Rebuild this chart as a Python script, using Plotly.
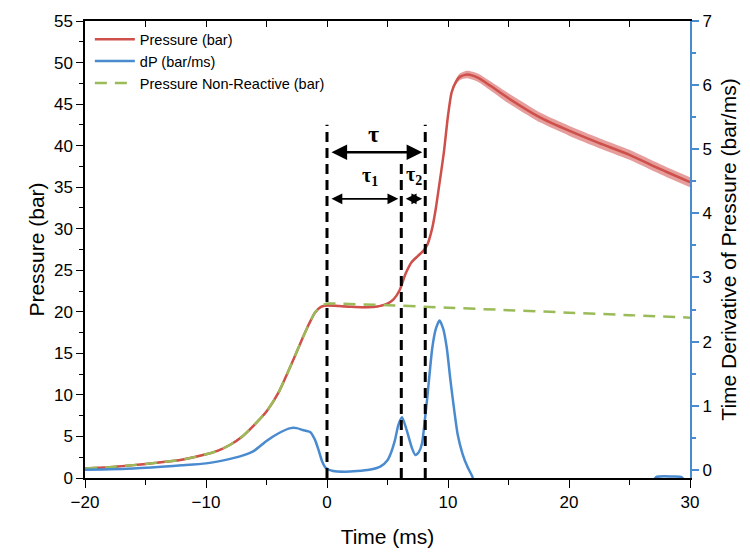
import plotly.graph_objects as go

# ---------------- data ----------------
t_pressure = [-20, -18, -16, -14, -12, -10, -9, -8, -7, -6, -5, -4, -3, -2.5, -2, -1.5, -1.0, -0.5,
              0, 1, 2, 3, 4, 4.5, 5, 5.5, 6, 6.5, 7, 7.5, 8, 8.3, 8.7, 9, 9.25, 9.65, 10, 10.3,
              10.7, 11.0, 11.6, 12.5, 13.5, 15, 17.6, 20, 22.5, 25, 27.5, 30]
pressure = [1.15, 1.3, 1.55, 1.85, 2.2, 2.85, 3.3, 4.0, 5.0, 6.4, 8.0, 10.3, 13.5, 15.2, 16.9, 18.5, 19.9, 20.6,
            20.75, 20.7, 20.6, 20.55, 20.6, 20.75, 21.0, 21.5, 22.6, 24.6, 26.0, 26.7, 27.4, 28.1, 30.1, 32.5, 35.0,
            39.1, 43.6, 46.4, 47.8, 48.3, 48.55, 48.15, 47.2, 45.7, 43.4, 41.8, 40.3, 38.9, 37.2, 35.6]
pressure_spread = [0.12, 0.12, 0.12, 0.12, 0.12, 0.12, 0.12, 0.12, 0.12, 0.12, 0.12, 0.12, 0.12, 0.12, 0.12, 0.12,
                   0.12, 0.12, 0.12, 0.12, 0.12, 0.12, 0.12, 0.12, 0.12, 0.12, 0.15, 0.15, 0.15, 0.15, 0.15, 0.15,
                   0.18, 0.2, 0.2, 0.2, 0.25, 0.3, 0.35, 0.4, 0.45, 0.5, 0.55, 0.6, 0.6, 0.6, 0.6, 0.6, 0.6, 0.6]

t_dp = [-20, -16, -12, -10, -8, -7, -6, -5, -4, -3, -2.5, -2, -1.4, -1.0, -0.7, -0.4, -0.1, 0.5, 1.5, 2.5,
        3.5, 4.4, 5.0, 5.3, 5.6, 5.9, 6.2, 6.6, 7.0, 7.3, 7.6, 7.85, 8.1, 8.3, 8.7, 9.0, 9.3, 9.6, 9.9,
        10.2, 10.5, 10.8, 11.2, 11.6, 12.0, 12.5, 26.5, 27.2, 28.5, 29.3, 30]
dp = [0.0, 0.02, 0.07, 0.1, 0.17, 0.22, 0.3, 0.45, 0.57, 0.65, 0.65, 0.62, 0.59, 0.47, 0.31, 0.13, 0.03, -0.02,
      -0.03, -0.02, 0.0, 0.05, 0.15, 0.27, 0.45, 0.7, 0.82, 0.61, 0.35, 0.23, 0.28, 0.41, 0.8, 1.15, 1.9, 2.2,
      2.33, 2.2, 1.9, 1.4, 0.95, 0.55, 0.25, 0.05, -0.1, -0.3, -0.3, -0.115, -0.105, -0.115, -0.3]

t_nonreactive = [-20, -18, -16, -14, -12, -10, -9, -8, -7, -6, -5, -4, -3, -2.5, -2, -1.5, -1.0, -0.5,
                 0, 0.5, 5, 10, 15, 20, 25, 30]
pressure_nonreactive = [1.15, 1.3, 1.55, 1.85, 2.2, 2.85, 3.3, 4.0, 5.0, 6.4, 8.0, 10.3, 13.5, 15.2, 16.9, 18.5,
                        19.9, 20.7, 21.0, 21.0, 20.8, 20.5, 20.2, 19.9, 19.6, 19.3]

# characteristic times (ms) and marker heights (bar)
event_times = [0, 6.14, 8.12]
event_tops = [42.5, 38.3, 42.5]
tau_level = 39.2
tau12_level = 33.6
tau_labels = ["τ", "τ<sub>1</sub>", "τ<sub>2</sub>"]
tau_label_pos = [(3.83, 41.4), (3.58, 36.3), (7.2, 36.4)]

x_ticks = [-20, -10, 0, 10, 20, 30]
left_ticks = list(range(0, 56, 5))
right_ticks = list(range(0, 8))

RED = "#cf4f4a"
BLUE = "#4a8bd0"
GREEN = "#9bbb59"
FONT = "Liberation Sans, Arial, sans-serif"
SERIF = "Liberation Serif, Times New Roman, serif"

upper = [p + s for p, s in zip(pressure, pressure_spread)]
lower = [p - s for p, s in zip(pressure, pressure_spread)]

fig = go.Figure()

# band around pressure
fig.add_trace(go.Scatter(x=t_pressure, y=upper, mode="lines", line=dict(width=0, shape="spline", smoothing=0.6),
                         showlegend=False, hoverinfo="skip"))
fig.add_trace(go.Scatter(x=t_pressure, y=lower, mode="lines", line=dict(width=0, shape="spline", smoothing=0.6),
                         fill="tonexty", fillcolor="rgba(207,79,74,0.55)", showlegend=False, hoverinfo="skip"))

fig.add_trace(go.Scatter(x=t_pressure, y=pressure, mode="lines", name="Pressure (bar)",
                         line=dict(color=RED, width=2.5, shape="spline", smoothing=0.6)))
fig.add_trace(go.Scatter(x=t_dp, y=dp, mode="lines", name="dP (bar/ms)", yaxis="y2",
                         line=dict(color=BLUE, width=2.5, shape="spline", smoothing=0.6)))
fig.add_trace(go.Scatter(x=t_nonreactive, y=pressure_nonreactive, mode="lines",
                         name="Pressure Non-Reactive (bar)",
                         line=dict(color=GREEN, width=2.5, dash="12px,8px", shape="spline", smoothing=0.5)))

# invisible trace to carry the top axis
fig.add_trace(go.Scatter(x=t_pressure[:1], y=pressure[:1], xaxis="x2", mode="markers",
                         marker=dict(opacity=0), showlegend=False, hoverinfo="skip"))

# vertical dashed event lines
for t_e, top in zip(event_times, event_tops):
    fig.add_shape(type="line", xref="x", yref="y", x0=t_e, x1=t_e, y0=0, y1=top,
                  line=dict(color="black", width=3, dash="10px,6px"))

# arrows
arrow_specs = [
    (event_times[0], event_times[2], tau_level, 2.5, 1.25),
    (event_times[0], event_times[1], tau12_level, 1.8, 1.2),
    (event_times[1], event_times[2], tau12_level, 1.8, 1.2),
]
for a, b, lvl, w, s in arrow_specs:
    fig.add_annotation(x=b, y=lvl, ax=a, ay=lvl, xref="x", yref="y", axref="x", ayref="y",
                       text="", showarrow=True, arrowhead=2, startarrowhead=2, arrowside="end+start",
                       arrowwidth=w, arrowsize=s, startarrowsize=s, arrowcolor="black",
                       standoff=3, startstandoff=3)

for (lx, ly), txt, sz in zip(tau_label_pos, tau_labels, [24, 20, 20]):
    fig.add_annotation(x=lx, y=ly, xref="x", yref="y", text="<b>" + txt + "</b>", showarrow=False,
                       font=dict(family=SERIF, size=sz, color="black"))

fig.update_layout(
    width=750, height=557,
    margin=dict(l=85, r=60, t=16, b=75),
    paper_bgcolor="white", plot_bgcolor="white",
    font=dict(family=FONT, size=17, color="black"),
    showlegend=True,
    legend=dict(x=0.008, y=0.995, xanchor="left", yanchor="top", bgcolor="rgba(0,0,0,0)",
                traceorder="normal",
                font=dict(family=FONT, size=14.5, color="black"), tracegroupgap=0, itemwidth=40),
    xaxis=dict(range=[-20, 30], tickvals=x_ticks, ticks="outside", ticklen=8, tickwidth=1.2,
               tickcolor="black", showline=True, linecolor="black", linewidth=1.5, showgrid=False,
               zeroline=False, minor=dict(dtick=5, ticks="outside", ticklen=5, tickcolor="black", tickwidth=1.2),
               title=dict(text="Time (ms)", font=dict(size=21), standoff=18),
               tickfont=dict(size=17)),
    xaxis2=dict(range=[-20, 30], overlaying="x", side="top", anchor="y", dtick=5, tick0=-20,
                ticks="inside", ticklen=6, tickcolor="black", tickwidth=1.2, showticklabels=False,
                showline=True, linecolor="black", linewidth=1.5, showgrid=False, zeroline=False),
    yaxis=dict(range=[0, 55], tickvals=left_ticks, ticks="outside", ticklen=7, tickwidth=1.2,
               tickcolor="black", showline=True, linecolor="black", linewidth=1.5, showgrid=False,
               zeroline=False, minor=dict(dtick=2.5, ticks="outside", ticklen=4, tickcolor="black", tickwidth=1.2),
               title=dict(text="Pressure (bar)", font=dict(size=21), standoff=4),
               tickfont=dict(size=17)),
    yaxis2=dict(range=[-0.128, 7], overlaying="y", side="right", tickvals=right_ticks, ticks="outside",
                ticklen=7, tickwidth=1.5, tickcolor=BLUE, showline=True, linecolor=BLUE, linewidth=2,
                showgrid=False, zeroline=False,
                minor=dict(dtick=0.5, tick0=0, ticks="outside", ticklen=4, tickcolor=BLUE, tickwidth=1.5),
                title=dict(text="Time Derivative of Pressure (bar/ms)", font=dict(size=21), standoff=10),
                tickfont=dict(size=17, color="black")),
)

fig.write_html("out.html")
